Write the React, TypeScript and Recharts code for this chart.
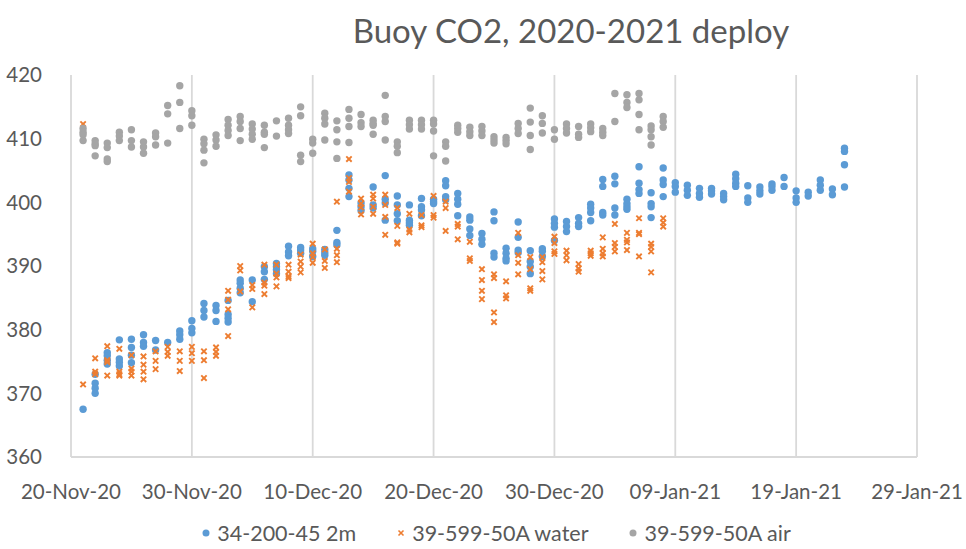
import React from "react";
import { ScatterChart, Scatter, XAxis, YAxis, CartesianGrid, Legend } from "recharts";

const title = "Buoy CO2, 2020-2021 deploy";
const seriesNames = ["34-200-45 2m", "39-599-50A water", "39-599-50A air"];
const seriesColors = ["#5B9BD5", "#ED7D31", "#A5A5A5"];
const xTickDays = [0, 10, 20, 30, 40, 50, 60, 70];
const xTickLabels = ["20-Nov-20", "30-Nov-20", "10-Dec-20", "20-Dec-20", "30-Dec-20", "09-Jan-21", "19-Jan-21", "29-Jan-21"];
const yTicks = [360, 370, 380, 390, 400, 410, 420];

// days since 20-Nov-20, with the readings of that day
const days2m = [
  1, 2, 3, 4, 5, 6, 7, 8, 9, 10, 11, 12, 13, 14, 15, 16, 17, 18, 19, 20, 21, 22, 23, 24, 25, 26, 27, 28, 29, 30, 31, 32,
  33, 34, 35, 36, 37, 38, 39, 40, 41, 42, 43, 44, 45, 46, 47, 48, 49, 50, 51, 52, 53, 54, 55, 56, 57, 58, 59, 60, 61, 62,
  63, 64,
];
const co2_2m = [
  [367.5], [373.0, 371.6, 370.8, 370.0], [376.4, 375.9, 375.2, 374.6], [378.4, 375.4, 374.9, 374.3],
  [378.5, 377.2, 376.0, 374.8], [379.2, 378.0, 377.4], [378.3, 376.8], [378.0], [379.8, 379.2, 378.5],
  [381.4, 380.2, 379.5], [384.1, 383.0, 382.0], [383.8, 383.0, 381.3], [384.6, 382.4, 381.8, 381.2],
  [387.8, 387.3, 386.5, 385.8], [387.8, 384.4], [389.9, 389.1, 387.9], [390.4, 389.9, 389.4, 388.8],
  [393.1, 392.2, 391.6], [392.9, 392.5, 392.0], [392.7, 392.3, 391.5], [392.6, 392.1, 391.7],
  [395.6, 393.7, 393.3], [404.3, 403.5, 402.2, 400.9], [399.9, 399.3, 398.7], [402.4, 399.6, 399.1],
  [404.2, 400.5, 399.9, 397.2], [401.0, 399.6, 398.2, 397.1], [399.6, 397.2, 396.8, 396.4],
  [400.6, 399.3, 398.8, 397.9], [400.5, 400.1, 399.8], [403.4, 402.6, 400.9, 400.4], [401.4, 400.5, 399.7, 397.9],
  [397.7, 397.2, 395.8, 394.8], [395.1, 394.2, 393.4], [398.5, 397.1, 392.0, 391.4], [392.8, 392.0, 391.2, 390.8],
  [396.9, 394.5, 392.5, 392.1], [392.4, 390.7, 389.9, 388.8], [392.7, 392.3, 391.5], [397.4, 396.7, 396.1, 394.0],
  [397.0, 396.2, 395.4], [397.6, 396.7, 396.2], [399.7, 399.1, 398.4, 397.1], [403.6, 402.5, 398.4, 398.0],
  [404.1, 402.9, 399.1, 398.0], [400.5, 399.8, 399.3, 398.9], [405.6, 403.0, 402.0, 401.4],
  [401.5, 399.8, 399.3, 397.6], [405.4, 403.5, 402.8, 400.9], [403.1, 402.5, 401.6], [402.7, 401.9, 401.1],
  [402.2, 401.4, 400.8], [402.2, 401.8, 401.3], [401.4, 400.9, 400.4], [404.4, 403.7, 403.0, 402.5],
  [402.6, 400.7, 400.0], [402.4, 401.8, 401.3], [402.9, 402.5, 401.9], [403.9, 402.5], [401.8, 400.7, 400.0],
  [401.6, 401.0], [403.5, 402.7, 401.9], [402.1, 401.2], [408.5, 408.0, 405.9, 402.4],
];

const daysBuoy = [
  1, 2, 3, 4, 5, 6, 7, 8, 9, 10, 11, 12, 13, 14, 15, 16, 17, 18, 19, 20, 21, 22, 23, 24, 25, 26, 27, 28, 29, 30, 31, 32,
  33, 34, 35, 36, 37, 38, 39, 40, 41, 42, 43, 44, 45, 46, 47, 48, 49,
];
const co2_water = [
  [412.3, 371.4], [375.5, 373.4, 373.0], [377.4, 375.2, 374.9, 372.8], [377.0, 373.4, 373.0, 372.8],
  [376.0, 373.9, 373.4, 372.8], [375.8, 374.5, 373.4, 372.2], [376.6, 375.1, 373.8], [377.3, 376.5, 375.9],
  [376.6, 375.1, 373.5], [377.3, 376.3, 375.1], [376.6, 375.2, 372.4], [377.2, 376.5, 375.9],
  [386.1, 384.7, 383.2, 379.0], [390.0, 389.3, 386.0], [387.0, 386.4, 383.5], [390.2, 387.4, 386.9, 385.6],
  [390.2, 388.8, 388.2, 386.8], [390.2, 389.1, 388.4, 388.1], [391.8, 390.7, 389.9, 389.0],
  [393.5, 392.0, 391.4, 390.5], [392.6, 390.8, 389.7], [400.1, 392.7, 391.7, 390.6], [406.8, 403.8, 403.2, 401.7],
  [400.6, 399.8, 399.2, 398.1], [401.2, 400.6, 399.3, 398.2], [401.2, 399.6, 397.7, 394.9],
  [399.1, 396.3, 393.7, 393.5], [398.2, 395.7, 395.3], [398.0, 396.4, 396.1], [401.0, 398.0, 397.6],
  [400.1, 399.1, 395.5], [396.6, 396.2, 394.2], [393.8, 391.2, 390.8], [389.5, 387.8, 386.1, 384.8],
  [388.7, 388.1, 382.7, 381.2], [387.6, 385.4, 384.9], [395.2, 391.7, 390.5, 388.7], [391.4, 389.5, 386.5, 386.1],
  [391.4, 390.6, 389.2, 387.9], [394.6, 393.6, 392.3, 391.9], [392.4, 391.7, 390.9], [390.3, 389.6, 389.1],
  [392.4, 392.0, 391.6], [394.5, 392.7, 392.0, 391.5], [396.6, 393.6, 393.0, 392.3], [395.2, 394.1, 393.7, 392.5],
  [397.5, 395.2, 395.0, 391.5], [393.5, 393.0, 392.3, 389.0], [397.5, 396.8, 396.2],
];
const co2_air = [
  [411.6, 411.0, 410.6, 409.7], [409.7, 409.2, 408.9, 407.3], [409.3, 408.6, 406.8, 406.4], [411.0, 410.4, 409.7],
  [411.4, 409.7, 408.7], [409.5, 408.7, 407.7], [410.9, 410.3, 409.0], [415.2, 413.9, 409.3], [418.3, 415.7, 411.6],
  [414.4, 413.6, 412.1], [409.9, 409.2, 408.2, 406.2], [410.6, 409.8, 408.8], [413.0, 412.1, 411.3, 410.5],
  [413.5, 412.7, 411.6, 409.7], [412.3, 411.5, 410.7, 409.9], [412.1, 411.0, 410.7, 408.6], [412.8, 410.4],
  [413.2, 412.1, 411.4, 410.8], [415.0, 413.6, 407.4, 406.4], [409.9, 409.3, 407.7], [414.0, 413.2, 412.3, 409.8],
  [412.8, 411.4, 409.5, 406.9], [414.6, 413.2, 411.9, 409.4], [413.8, 412.5, 411.9], [412.9, 412.4, 412.1, 410.7],
  [416.8, 413.5, 412.7, 409.8], [409.5, 408.8, 407.8], [412.9, 412.2, 411.5], [412.9, 412.2, 411.5],
  [412.9, 412.3, 411.2, 407.3], [409.5, 408.8, 406.5], [412.1, 411.6, 411.0], [411.8, 411.1, 410.5],
  [411.9, 411.2, 410.5], [410.3, 409.8, 409.3], [410.2, 409.7, 409.2], [412.4, 411.6, 410.8],
  [414.8, 412.6, 410.5, 408.3], [413.6, 412.4, 410.9], [411.4, 409.9], [412.3, 411.6, 410.9], [411.9, 410.7, 410.2],
  [412.3, 411.7, 411.1], [411.6, 411.0, 410.5], [417.1, 412.7], [416.9, 415.7, 414.9], [417.1, 416.1, 413.8, 411.4],
  [412.0, 411.4, 410.3, 409.0], [413.5, 412.7, 411.8],
];

const toPoints = (days: number[], values: number[][]) =>
  days.flatMap((d, i) => values[i].map((v) => ({ day: d, co2: v })));

const data2m = toPoints(days2m, co2_2m);
const dataWater = toPoints(daysBuoy, co2_water);
const dataAir = toPoints(daysBuoy, co2_air);

const FONT = "Lato";
const TEXT = "#595959";

const Dot = (color: string) => (p: any) => <circle cx={p.cx} cy={p.cy} r={3.7} fill={color} />;
const Cross = (color: string) => (p: any) => {
  const s = 2.7;
  return (
    <g stroke={color} strokeWidth={1.9}>
      <line x1={p.cx - s} y1={p.cy - s} x2={p.cx + s} y2={p.cy + s} />
      <line x1={p.cx - s} y1={p.cy + s} x2={p.cx + s} y2={p.cy - s} />
    </g>
  );
};

const XTick = (p: any) => {
  const idx = xTickDays.indexOf(p.payload.value);
  return (
    <text x={p.x} y={p.y + 42} textAnchor="middle" fill={TEXT} fontSize={20.5} fontFamily={FONT}>
      {xTickLabels[idx]}
    </text>
  );
};
const YTick = (p: any) => (
  <text x={p.x - 29} y={p.y + 7.4} textAnchor="end" fill={TEXT} fontSize={20.5} fontFamily={FONT}>
    {p.payload.value}
  </text>
);

const LegendContent = () => (
  <div
    style={{
      display: "flex",
      justifyContent: "center",
      alignItems: "center",
      fontFamily: FONT,
      fontSize: 21.5,
      lineHeight: "24px",
      color: TEXT,
      paddingLeft: 26,
    }}
  >
    {seriesNames.map((name, i) => (
      <div key={name} style={{ display: "flex", alignItems: "center", marginLeft: i === 0 ? 0 : 40 }}>
        <svg width={10} height={10} style={{ marginRight: 6 }}>
          {i === 1 ? (
            <g stroke={seriesColors[i]} strokeWidth={1.6}>
              <line x1={2.5} y1={2.5} x2={7.5} y2={7.5} />
              <line x1={2.5} y1={7.5} x2={7.5} y2={2.5} />
            </g>
          ) : (
            <circle cx={5} cy={5} r={3.5} fill={seriesColors[i]} />
          )}
        </svg>
        <span>{name}</span>
      </div>
    ))}
  </div>
);

export default function App() {
  return (
    <div style={{ position: "absolute", left: 0, top: 0, width: 966, height: 549, background: "#fff", overflow: "hidden" }}>
      <div
        style={{
          position: "absolute",
          left: 0,
          width: 1142,
          top: 10,
          textAlign: "center",
          fontFamily: FONT,
          fontSize: 33,
          lineHeight: "40px",
          color: TEXT,
        }}
      >
        {title}
      </div>
      <ScatterChart width={966} height={549} margin={{ top: 75, right: 49, bottom: 52, left: 0 }}>
        <CartesianGrid horizontal={false} stroke="#D9D9D9" strokeWidth={1.8} />
        <XAxis
          type="number"
          dataKey="day"
          domain={[0, 70]}
          ticks={xTickDays}
          height={40}
          tickSize={0}
          tickMargin={0}
          tickLine={false}
          axisLine={{ stroke: "#D9D9D9", strokeWidth: 2 }}
          tick={XTick}
          interval={0}
        />
        <YAxis
          type="number"
          dataKey="co2"
          domain={[360, 420]}
          ticks={yTicks}
          width={71}
          tickSize={0}
          tickMargin={0}
          tickLine={false}
          axisLine={false}
          tick={YTick}
          interval={0}
        />
        <Legend
          verticalAlign="middle"
          align="center"
          layout="horizontal"
          content={LegendContent}
          wrapperStyle={{ top: 521, left: 0, width: 966 }}
        />
        <Scatter name={seriesNames[0]} data={data2m} fill={seriesColors[0]} shape={Dot(seriesColors[0])} isAnimationActive={false} />
        <Scatter name={seriesNames[1]} data={dataWater} fill={seriesColors[1]} shape={Cross(seriesColors[1])} isAnimationActive={false} />
        <Scatter name={seriesNames[2]} data={dataAir} fill={seriesColors[2]} shape={Dot(seriesColors[2])} isAnimationActive={false} />
      </ScatterChart>
    </div>
  );
}
